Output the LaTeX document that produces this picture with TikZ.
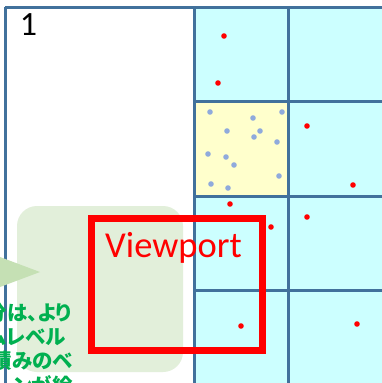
\documentclass[tikz,border=0pt]{standalone}
\usepackage{fontspec}
\setmainfont{Carlito}
\newfontfamily\jpfont[RawFeature=+palt]{Noto Sans CJK JP}
\definecolor{lineblue}{RGB}{65,113,156}
\definecolor{cellcyan}{RGB}{204,255,255}
\definecolor{cellyellow}{RGB}{255,255,204}
\definecolor{boxgreen}{RGB}{226,239,218}
\definecolor{trigreen}{RGB}{197,224,180}
\definecolor{dotblue}{RGB}{143,170,220}
\definecolor{textgreen}{RGB}{0,176,80}
\tikzset{
  gridline/.style={draw=lineblue, line width=3pt},
  reddot/.style={fill=red, draw=none},
  bluedot/.style={fill=dotblue, draw=none},
  jptext/.style={font=\jpfont\bfseries\fontsize{20.5}{20.5}\selectfont, text=textgreen, inner sep=0pt, anchor=base east},
}
\begin{document}
\begin{tikzpicture}[x=1pt, y=-1pt]
\useasboundingbox (0,0) rectangle (381,383);
\fill[white] (0,0) rectangle (381,383);
% cells
\fill[cellcyan] (194,7) rectangle (395,395);
\fill[cellyellow] (194,101) rectangle (288,196);
% grid lines
\draw[gridline] (5,7) -- (395,7);
\draw[gridline] (194,101) -- (395,101);
\draw[gridline] (194,196) -- (395,196);
\draw[gridline] (194,290) -- (395,290);
\draw[gridline] (5,7) -- (5,395);
\draw[gridline] (194,7) -- (194,395);
\draw[gridline] (288,7) -- (288,395);
% red dots
\foreach \p in {(224,36),(218,83),(307,126),(353,185),(230,204),(271,227),(307,217),(241,326),(357,324)}
  \fill[reddot] \p circle (2.8);
% blue dots
\foreach \p in {(210,112),(253,118),(282,112),(227,131),(260,131),(254,137),(277,142),(208,154),(226,157),(234,165),(279,176),(211,184),(228,188)}
  \fill[bluedot] \p circle (2.8);
% green callout box
\fill[boxgreen, rounded corners=20pt] (17,206) rectangle (183,372);
\fill[trigreen] (-20,249.5) -- (40,272) -- (-20,294.5) -- cycle;
% labels
\node[font=\fontsize{34}{34}\selectfont, inner sep=0pt, anchor=base] (one) at (28.5,35) {1};
\node[font=\fontsize{36.5}{36.5}\selectfont, text=red, inner sep=0pt, anchor=base] (vp) at (173.5,257) {Viewport};
\node[jptext] (j1) at (72,320) {部分は、より};
\node[jptext] (j2) at (66,344) {テムレベル};
\node[jptext] (j3) at (73,368) {積みのベ};
\node[jptext] (j4) at (73,393) {ーンが絵};
% viewport rectangle
\draw[red, line width=7pt] (91.5,218.5) rectangle (262,350);
\end{tikzpicture}
\end{document}
